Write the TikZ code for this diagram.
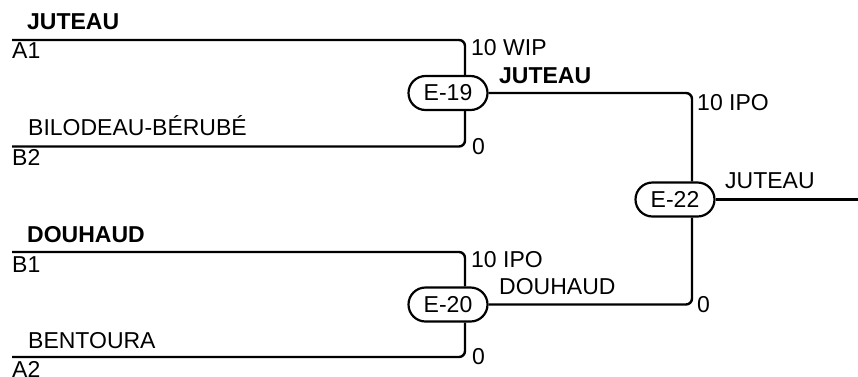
\documentclass[tikz,border=0pt]{standalone}
\usepackage{fontspec}
\setmainfont{Liberation Sans}
\usepackage{tikz}
\usetikzlibrary{calc}
\usetikzlibrary{positioning}
\tikzset{>=latex}
\tikzstyle{game} = [draw = black, line width = 2.2pt, rounded corners = 17pt, minimum width = 79pt, minimum height = 34pt, inner sep = 0, font = \fontsize{23}{27}\selectfont]
\tikzstyle{lbl} = [draw = none, inner sep = 0, anchor = base west, font = \fontsize{23}{27}\selectfont]
\tikzstyle{win} = [lbl, font = \fontsize{23}{27}\selectfont\bfseries]
\tikzstyle{wire} = [-, draw = black, line width = 2.4pt, rounded corners = 6pt]

\begin{document}
\begin{tikzpicture}[x = 1pt, y = -1pt]
\useasboundingbox (0, 0) rectangle (858, 376);
%\node [lbl] at (0,0) {round 1};
\node [game] (E19) at (448, 93) {E-19};
\node [game] (E20) at (448, 304.5) {E-20};
\node [game] (E22) at (675, 199.5) {E-22};
\coordinate (A1) at (12, 40);
\coordinate (B2) at (12, 146.5);
\coordinate (B1) at (12, 252);
\coordinate (A2) at (12, 357);
\coordinate (W) at (858, 199.5);
\draw [wire] (A1) -| ([xshift = 17pt]E19.north);
\draw [wire] (B2) -| ([xshift = 17pt]E19.south);
\draw [wire] (B1) -| ([xshift = 17pt]E20.north);
\draw [wire] (A2) -| ([xshift = 17pt]E20.south);
\draw [wire] (E19.east) -| ([xshift = 17pt]E22.north);
\draw [wire] (E20.east) -| ([xshift = 17pt]E22.south);
\draw [wire] (E22.east) -- (W);
\node [win] (tA1) at (27, 29) {JUTEAU};
\node [lbl] (sA1) at (12, 58) {A1};
\node [lbl] (tB2) at (28, 135) {BILODEAU-BÉRUBÉ};
\node [lbl] (sB2) at (12, 165) {B2};
\node [win] (tB1) at (27, 242) {DOUHAUD};
\node [lbl] (sB1) at (12, 272) {B1};
\node [lbl] (tA2) at (28, 348) {BENTOURA};
\node [lbl] (sA2) at (12, 377) {A2};
\node [lbl] (r19a) at (471, 55) {10 WIP};
\node [lbl] (r19b) at (472, 154) {0};
\node [win] (w19) at (499, 83) {JUTEAU};
\node [lbl] (r20a) at (471, 267) {10 IPO};
\node [lbl] (r20b) at (472, 364) {0};
\node [lbl] (w20) at (499, 294) {DOUHAUD};
\node [lbl] (r22a) at (697, 110) {10 IPO};
\node [lbl] (r22b) at (697, 312) {0};
\node [lbl] (w22) at (725, 188) {JUTEAU};
\end{tikzpicture}
\end{document}
